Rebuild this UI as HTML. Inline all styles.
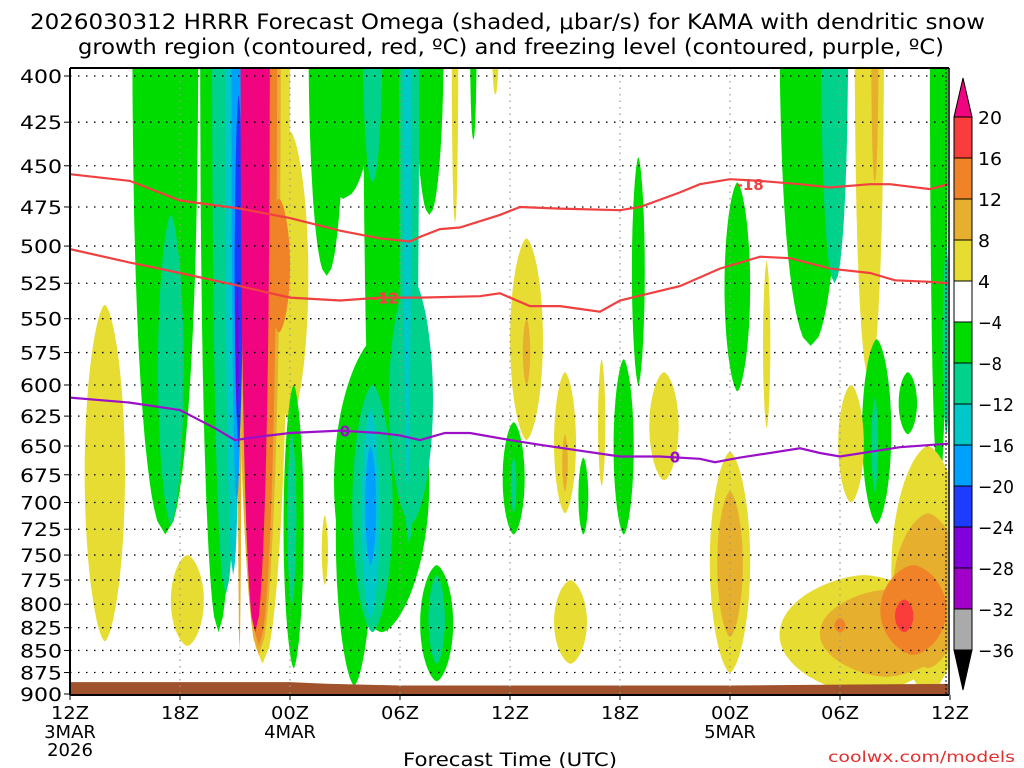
<!DOCTYPE html>
<html><head><meta charset="utf-8"><style>
body{margin:0;background:#fff;}
svg{display:block;font-family:"DejaVu Sans","Liberation Sans",sans-serif;}
</style></head><body>
<svg id="chart" width="1024" height="768" viewBox="0 0 1024 768" xmlns="http://www.w3.org/2000/svg">
<text x="30" y="29" font-size="21" textLength="955" lengthAdjust="spacingAndGlyphs">2026030312 HRRR Forecast Omega (shaded, μbar/s) for KAMA with dendritic snow</text>
<text x="78" y="54" font-size="21" textLength="866" lengthAdjust="spacingAndGlyphs">growth region (contoured, red, ºC) and freezing level (contoured, purple, ºC)</text>
<defs><clipPath id="plotclip"><rect x="70" y="68" width="878" height="626"/></clipPath></defs>
<g id="shade" clip-path="url(#plotclip)"></g>
<g id="grid"></g>
<g id="lines" clip-path="url(#plotclip)"></g>
<g id="axes"></g>
<g id="cbar"></g>
<text x="403" y="766" font-size="19" textLength="214" lengthAdjust="spacingAndGlyphs">Forecast Time (UTC)</text>
<text x="828" y="762" font-size="15" fill="#e03030" textLength="187" lengthAdjust="spacingAndGlyphs">coolwx.com/models</text>
</svg>
<script>
// ---- data ----
const pressureTicks=[400,425,450,475,500,525,550,575,600,625,650,675,700,725,750,775,800,825,850,875,900];
const timeTicks=[0,6,12,18,24,30,36,42,48];
const timeLabels=["12Z","18Z","00Z","06Z","12Z","18Z","00Z","06Z","12Z"];
const dateLabels={0:["3MAR","2026"],12:["4MAR"],36:["5MAR"]};
const cbarLevels=[20,16,12,8,4,-4,-8,-12,-16,-20,-24,-28,-32,-36];
// omega blobs: time center (h), half-width (h), top p, bottom p, omega
const blobT=[5.2,5.5,8.1,8.5,8.9,9.1,9.2,9.25,10.5,12.0,10.3,11.4,10.3,10.1,1.9,6.4,12.2,12.1,
14.9,14.0,17.3,17.0,15.5,20.0,19.6,16.5,18.5,18.4,16.5,16.4,16.4,20.0,18.6,13.9,16.9,21.0,23.2,22.0,
24.9,24.9,24.2,24.2,27.0,27.0,29.0,28.0,27.3,
31.0,30.2,32.4,36.4,38.0,40.4,41.7,43.6,43.9,47.4,47.8,44.0,43.9,45.7,42.6,36.0,36.0,
43.3,46.8,44.5,46.8,46.0,45.5,42.0];
const blobW=[1.8,0.7,1.0,0.75,0.45,0.3,0.22,0.12,1.5,1.0,1.2,0.6,1.0,0.8,1.1,0.9,0.55,0.25,
1.9,1.0,1.3,2.6,1.0,0.9,0.8,0.55,0.55,0.22,1.1,0.5,0.3,0.45,1.2,0.17,0.15,0.18,0.2,0.18,
0.9,0.2,0.6,0.15,0.6,0.15,0.2,0.27,0.9,
0.35,0.55,0.8,0.7,0.2,1.7,0.75,0.8,0.2,0.5,0.2,0.8,0.18,0.5,0.7,1.1,0.7,
4.6,2.0,3.6,1.9,1.8,0.5,0.3];
const blobTop=[360,480,360,360,360,370,410,370,360,430,360,470,360,360,540,750,600,640,
360,360,360,560,600,760,360,360,360,360,600,620,650,770,520,712,370,370,370,370,
495,550,630,660,590,640,580,660,775,
445,580,590,460,510,360,360,360,370,360,500,565,610,590,600,655,690,
770,650,785,710,760,795,815];
const blobBot=[730,720,830,790,770,700,650,850,865,630,855,560,845,830,840,845,870,800,
470,520,830,830,890,885,480,460,740,690,830,815,760,865,720,780,415,485,410,435,
645,600,730,710,710,690,685,730,865,
600,730,680,605,635,570,525,595,460,690,640,720,690,640,700,875,835,
900,900,880,870,855,830,830];
const blobV=[-6,-10,-6,-10,-14,-18,-22,10,6,6,10,14,14,25,6,6,-6,-10,
-6,-6,-6,-6,-6,-6,-6,-10,-10,-14,-10,-14,-18,-10,-10,6,6,6,6,-6,
6,10,-6,-10,6,10,6,-6,6,
-6,-6,6,-6,6,-6,-10,6,10,-6,-10,-6,-10,-6,6,6,10,
6,6,10,10,14,18,14];
const purpleOnly=[[9.05,9.2,-26,520,630]];
// contour lines
const minus18T=[0,3.27,6,9.27,12,14.73,16.91,18.55,19.09,20.18,21.27,23.45,24.55,26.73,30,31.09,33.27,34.36,36,37.64,39.82,41.45,43.64,44.73,46.91,47.89];
const minus18P=[455,459,471,476,482,490,495,497,494,489,488,480,475,476,477,475,466,461,458,459,461,463,461,461,464,461];
const minus12T=[0,3.27,6,9.27,12,14.73,16.91,19.09,22.36,23.45,25.09,26.73,28.91,30,33.27,35.45,37.64,39.27,41.45,43.64,45,46.91,47.89];
const minus12P=[502,511,518,527,535,537,535,535,534,532,541,541,545,537,527,515,507,508,515,518,523,524,525];
const zeroT=[0,3.27,6,7.91,9,10.36,12,14.73,16.91,18,19.09,20.45,21.82,24,25.64,27.82,30,32.18,34.36,35.18,36.55,39.82,40.91,42,43.64,45.27,47.89];
const zeroP=[610,614,620,635,645,642,639,637,639,641,645,639,639,645,649,654,659,659,661,664,660,652,656,659,655,651,648];
const groundT=[0,6,12,14,18,24,30,36,42,48];
const groundP=[886,886,886,888,890,890,890,890,889,888];

// ---- scales ----
const X0=70,X1=950,Y400=76,Y900=694;
const xs=t=>X0+t*(X1-X0)/48;
const ys=p=>Y400+Math.log(p/400)/Math.log(900/400)*(Y900-Y400);
const NS="http://www.w3.org/2000/svg";
function mk(tag,attrs,parent){const e=document.createElementNS(NS,tag);for(const k in attrs)e.setAttribute(k,attrs[k]);parent.appendChild(e);return e;}
function colorOf(v){
 if(v>=20)return"#f0047f";if(v>=16)return"#fa3c3c";if(v>=12)return"#f08228";if(v>=8)return"#e6af2d";if(v>=4)return"#e6dc32";
 if(v>-4)return"#ffffff";if(v>-8)return"#00dc00";if(v>-12)return"#00d28c";if(v>-16)return"#00c8c8";if(v>-20)return"#00a0ff";
 if(v>-24)return"#1e3cff";if(v>-28)return"#8200dc";if(v>-32)return"#a000c8";if(v>-36)return"#aaaaaa";return"#000";}
function blobPath(t,w,pt,pb){
 const cx=xs(t),rx=w*(X1-X0)/48,y0=ys(pt),y1=ys(pb);let d="";
 if(pt<400){ // column from top: full width at top, tapering downward
  const N=40,pts=[];
  for(let i=0;i<=N;i++){const u=i/N;const hw=rx*Math.sqrt(Math.max(0,1-Math.pow(u,2.5)));pts.push([u,hw]);}
  d="M"+(cx-rx).toFixed(1)+","+(y0-20).toFixed(1);
  pts.forEach(([u,hw])=>{d+="L"+(cx-hw).toFixed(1)+","+(y0+u*(y1-y0)).toFixed(1);});
  pts.slice().reverse().forEach(([u,hw])=>{d+="L"+(cx+hw).toFixed(1)+","+(y0+u*(y1-y0)).toFixed(1);});
  d+="L"+(cx+rx).toFixed(1)+","+(y0-20).toFixed(1)+"Z";
  return d;}
 const cy=(y0+y1)/2,ry=(y1-y0)/2;
 for(let i=0;i<=80;i++){const a=i/80*2*Math.PI,c=Math.cos(a),s=Math.sin(a);
  const x=cx+rx*Math.sign(c)*Math.pow(Math.abs(c),1.25),y=cy+ry*s;
  d+=(i?"L":"M")+x.toFixed(1)+","+y.toFixed(1);}
 return d+"Z";}
const shade=document.getElementById('shade');
const idx=blobT.map((_,i)=>i).sort((a,b)=>Math.abs(blobV[a])-Math.abs(blobV[b]));
idx.forEach(i=>{
 const p=mk('path',{d:blobPath(blobT[i],blobW[i],blobTop[i],blobBot[i]),fill:colorOf(blobV[i])},shade);
 
 
});
purpleOnly.forEach(b=>{
 const p=mk('path',{d:blobPath((b[0]+b[1])/2,(b[1]-b[0])/2,b[3],b[4]),fill:colorOf(b[2])},shade);
 
 
});
// ground
let gd="M"+xs(0)+","+ys(900);
groundT.forEach((t,i)=>{gd+="L"+xs(t).toFixed(1)+","+ys(groundP[i]).toFixed(1);});
gd+="L"+xs(48)+","+ys(900)+"Z";
const gp=mk('path',{d:gd,fill:"#a0522d"},shade);



// grid
const grid=document.getElementById('grid');
pressureTicks.forEach(p=>{if(p===900)return;
 const l=mk('line',{x1:X0,x2:948,y1:ys(p),y2:ys(p),stroke:"#000","stroke-width":1.3,"stroke-dasharray":"1.5,6.5"},grid);
 
 });
timeTicks.forEach(t=>{if(t===0||t===48)return;
 const l=mk('line',{x1:xs(t),x2:xs(t),y1:68,y2:694,stroke:"#999","stroke-width":1.2,"stroke-dasharray":"1.5,5"},grid);
 
 });

// contour lines
const lines=document.getElementById('lines');
function poly(T,P,col,name){let d="";T.forEach((t,i)=>{d+=(i?"L":"M")+xs(t).toFixed(1)+","+ys(P[i]).toFixed(1);});
 const e=mk('path',{d:d,fill:"none",stroke:col,"stroke-width":2.2},lines);
 
 }
poly(minus18T,minus18P,"#f04040","minus18-contour");
poly(minus12T,minus12P,"#f04040","minus12-contour");
poly(zeroT,zeroP,"#9a10c8","freezing-level-contour");
function clabel(t,p,txt,col,name){
 const e=mk('text',{x:xs(t),y:ys(p)+6,"text-anchor":"middle","font-size":15,"font-weight":"bold",fill:col},lines);
 e.textContent=txt;
 
 }
clabel(37.1,461,"-18","#f04040","label-minus18");
clabel(17.2,535,"-12","#f04040","label-minus12");
clabel(15.0,637,"0","#9a10c8","label-zero");
clabel(33.0,659,"0","#9a10c8","label-zero-2");

// axes
const axes=document.getElementById('axes');
mk('line',{x1:X0,x2:X0,y1:68,y2:695,stroke:"#000","stroke-width":2},axes);
mk('line',{x1:X0,x2:949,y1:695,y2:695,stroke:"#000","stroke-width":2},axes);
mk('line',{x1:X0,x2:949,y1:68,y2:68,stroke:"#000","stroke-width":2},axes);
mk('line',{x1:949,x2:949,y1:68,y2:695,stroke:"#000","stroke-width":1.5},axes);
mk('line',{x1:946,x2:946,y1:68,y2:695,stroke:"#000","stroke-width":1,"stroke-dasharray":"2,2"},axes);
pressureTicks.forEach(p=>{
 mk('line',{x1:64,x2:X0,y1:ys(p),y2:ys(p),stroke:"#000","stroke-width":1},axes);
 const e=mk('text',{x:20,y:ys(p)+7,"font-size":19,fill:"#000",textLength:42,lengthAdjust:"spacingAndGlyphs"},axes);
 e.textContent=p;
 
 });
timeTicks.forEach((t,i)=>{
 mk('line',{x1:xs(t),x2:xs(t),y1:695,y2:700,stroke:"#000","stroke-width":1},axes);
 const e=mk('text',{x:xs(t)-19,y:719,"font-size":18,fill:"#000",textLength:38,lengthAdjust:"spacingAndGlyphs"},axes);
 e.textContent=timeLabels[i];
 
 
 (dateLabels[t]||[]).forEach((s,j)=>{
  const d=mk('text',{x:xs(t),y:738+j*18,"text-anchor":"middle","font-size":18,fill:"#000"},axes);
  d.textContent=s;
  
  });
});

// colorbar
const cb=document.getElementById('cbar');
const CX=954,CW=18,CT=117,CH=41;
const tri1=mk('path',{d:`M${CX},${CT}L${CX+CW/2},78L${CX+CW},${CT}Z`,fill:colorOf(25),stroke:"#000","stroke-width":1},cb);


for(let i=0;i<cbarLevels.length-1;i++){
 const v=(cbarLevels[i]+cbarLevels[i+1])/2;
 const r=mk('rect',{x:CX,y:CT+i*CH,width:CW,height:CH,fill:colorOf(v),stroke:"#000","stroke-width":1},cb);
 
 }
const yb=CT+(cbarLevels.length-1)*CH;
const tri2=mk('path',{d:`M${CX},${yb}L${CX+CW/2},${yb+40}L${CX+CW},${yb}Z`,fill:"#000",stroke:"#000","stroke-width":1},cb);


cbarLevels.forEach((v,i)=>{
 const txt=v<0?"−"+(-v):String(v);
 const e=mk('text',{x:978,y:CT+i*CH+7,"font-size":18,fill:"#000",textLength:txt.length*12,lengthAdjust:"spacingAndGlyphs"},cb);
 e.textContent=txt;
 
 });
</script>
</body></html>
